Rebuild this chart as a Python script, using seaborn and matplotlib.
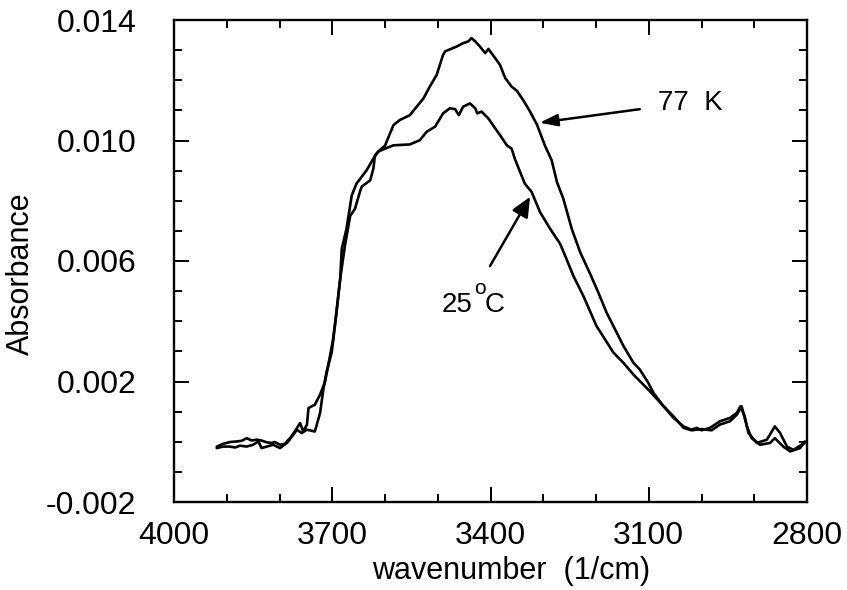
import matplotlib
matplotlib.use("Agg")
import matplotlib.pyplot as plt
import seaborn as sns
import pandas as pd
from matplotlib.ticker import FixedLocator, MultipleLocator

# ---- data ----
wn_77K = [3919, 3907, 3894, 3881, 3872, 3862, 3853, 3843, 3834, 3824,
          3815, 3809, 3799, 3790, 3780, 3771, 3761, 3755, 3748, 3745,
          3733, 3723, 3714, 3708, 3699, 3692, 3685, 3682, 3673, 3663,
          3654, 3647, 3635, 3622, 3613, 3600, 3584, 3572, 3553, 3540,
          3527, 3515, 3502, 3490, 3486, 3464, 3452, 3442, 3436, 3429,
          3420, 3410, 3404, 3391, 3382, 3372, 3360, 3350, 3338, 3325,
          3312, 3297, 3284, 3274, 3262, 3246, 3230, 3211, 3196, 3180,
          3167, 3148, 3129, 3117, 3101, 3091, 3073, 3053, 3034, 3019,
          3000, 2981, 2965, 2946, 2933, 2924, 2914, 2905, 2889, 2870,
          2861, 2845, 2832, 2813, 2804]
abs_77K = [-0.00016, -0.00007, -0.00001, 0.00001, 0.00003, 0.00012, 0.00004, 0.00007, 0.00004, -0.00002,
           -0.00004, -0.00001, -0.0001, -0.00007, 0.00012, 0.00034, 0.00062, 0.00034, 0.00057, 0.00112,
           0.00123, 0.00157, 0.00197, 0.0025, 0.00334, 0.0043, 0.0054, 0.0064, 0.00707, 0.00818,
           0.00857, 0.00873, 0.00901, 0.0094, 0.00963, 0.00983, 0.01051, 0.01068, 0.01084, 0.01112,
           0.0114, 0.01179, 0.01218, 0.01284, 0.01296, 0.01312, 0.01323, 0.01329, 0.0134, 0.01329,
           0.01312, 0.0129, 0.01304, 0.01273, 0.01251, 0.01207, 0.01179, 0.01165, 0.01134, 0.01096,
           0.01053, 0.00984, 0.00934, 0.00862, 0.00807, 0.00707, 0.00629, 0.00557, 0.00497, 0.00429,
           0.00384, 0.00318, 0.00262, 0.0024, 0.00196, 0.00162, 0.0012, 0.00084, 0.00046, 0.00038,
           0.00042, 0.00038, 0.00057, 0.00068, 0.0009, 0.00118, 0.00051, 0.00012, -0.0001, -0.00004,
           0.00012, -0.00016, -0.00032, -0.00021, 0.00001]

wn_25C = [3919, 3907, 3894, 3884, 3875, 3862, 3850, 3840, 3834, 3824,
          3812, 3799, 3786, 3774, 3767, 3758, 3748, 3733, 3723, 3717,
          3711, 3701, 3695, 3685, 3676, 3666, 3657, 3647, 3644, 3628,
          3622, 3619, 3613, 3600, 3584, 3553, 3534, 3521, 3505, 3490,
          3477, 3467, 3460, 3452, 3439, 3429, 3425, 3417, 3404, 3391,
          3382, 3369, 3360, 3354, 3344, 3335, 3322, 3306, 3287, 3268,
          3256, 3243, 3224, 3199, 3183, 3167, 3148, 3129, 3098, 3072,
          3053, 3034, 3019, 3009, 3000, 2984, 2965, 2946, 2933, 2926,
          2918, 2911, 2895, 2876, 2861, 2851, 2838, 2826, 2810, 2804]
abs_25C = [-0.00021, -0.00016, -0.00016, -0.00019, -0.00013, -0.00016, -0.0001, 0.00001, -0.00021, -0.00016,
           -0.0001, -0.00021, -0.00004, 0.00023, 0.0004, 0.00029, 0.0004, 0.00034, 0.00096, 0.00173,
           0.0023, 0.00297, 0.00383, 0.0054, 0.0065, 0.0075, 0.00773, 0.00833, 0.00847, 0.00868,
           0.00907, 0.00951, 0.00963, 0.00973, 0.00984, 0.00987, 0.01001, 0.01029, 0.01046, 0.0109,
           0.01107, 0.01104, 0.01084, 0.01112, 0.01123, 0.01107, 0.0109, 0.01096, 0.01073, 0.0104,
           0.01018, 0.00984, 0.00973, 0.0094, 0.00896, 0.00857, 0.00829, 0.00762, 0.00707, 0.00657,
           0.00607, 0.00551, 0.00484, 0.00384, 0.0034, 0.00296, 0.00262, 0.00223, 0.00168, 0.00118,
           0.00079, 0.00051, 0.0004, 0.00046, 0.00038, 0.00046, 0.00068, 0.00079, 0.00096, 0.00118,
           0.00084, 0.00029, -0.00004, 0.00007, 0.00051, 0.00029, -0.00016, -0.00027, -0.0001, -0.00004]

x_ticks = [4000, 3700, 3400, 3100, 2800]
x_tick_labels = ["4000", "3700", "3400", "3100", "2800"]
y_ticks = [-0.002, 0.002, 0.006, 0.010, 0.014]
y_tick_labels = ["-0.002", "0.002", "0.006", "0.010", "0.014"]

df = pd.concat([
    pd.DataFrame({"wn": wn_77K, "A": abs_77K, "series": "77 K"}),
    pd.DataFrame({"wn": wn_25C, "A": abs_25C, "series": "25 C"}),
])

sns.set_theme(style="ticks")
plt.rcParams["font.family"] = ["Liberation Sans", "DejaVu Sans"]

fig = plt.figure(figsize=(8.47, 5.90), dpi=100)
ax = fig.add_axes([174 / 847, 1 - 502 / 590, 633 / 847, 482 / 590])

sns.lineplot(data=df, x="wn", y="A", hue="series", units="series",
             estimator=None, palette={"77 K": "black", "25 C": "black"},
             linewidth=1.9, legend=False, ax=ax)

ax.set_xlim(4000, 2800)
ax.set_ylim(-0.002, 0.014)
ax.xaxis.set_major_locator(FixedLocator(x_ticks))
ax.set_xticklabels(x_tick_labels)
ax.xaxis.set_minor_locator(MultipleLocator(100))
ax.yaxis.set_major_locator(FixedLocator(y_ticks))
ax.set_yticklabels(y_tick_labels)
ax.yaxis.set_minor_locator(MultipleLocator(0.001))

ax.tick_params(which="both", direction="in", top=True, right=True,
               colors="black", width=1.4)
ax.tick_params(which="major", length=11)
ax.tick_params(which="minor", length=6)
ax.tick_params(axis="x", which="major", labelsize=23, pad=14)
ax.tick_params(axis="y", which="major", labelsize=23, pad=27)
for s in ax.spines.values():
    s.set_linewidth(1.7)
    s.set_color("black")

ax.set_xlabel("wavenumber  (1/cm)", fontsize=22, color="black")
ax.set_ylabel("Absorbance", fontsize=22, color="black")
ax.xaxis.set_label_coords(0.532, -0.112)
ax.yaxis.set_label_coords(-0.218, 0.473)

# annotations
ax.annotate("", xy=(3307, 0.01059), xytext=(3117, 0.01104),
            arrowprops=dict(arrowstyle="-|>,head_length=0.9,head_width=0.3",
                            color="black", lw=1.8, shrinkA=0, shrinkB=0))
ax.text(3083, 0.01123, "77  K", fontsize=20, ha="left", va="center", color="black")

ax.annotate("", xy=(3325, 0.00813), xytext=(3401, 0.00583),
            arrowprops=dict(arrowstyle="-|>,head_length=1.0,head_width=0.45",
                            color="black", lw=1.8, shrinkA=0, shrinkB=0))
ax.text(3492, 0.0043, "25", fontsize=20, ha="left", va="baseline", color="black")
ax.text(3431, 0.0049, "o", fontsize=15, ha="left", va="baseline", color="black")
ax.text(3412, 0.0043, "C", fontsize=20, ha="left", va="baseline", color="black")

fig.savefig("out.png", dpi=100, facecolor="white")
